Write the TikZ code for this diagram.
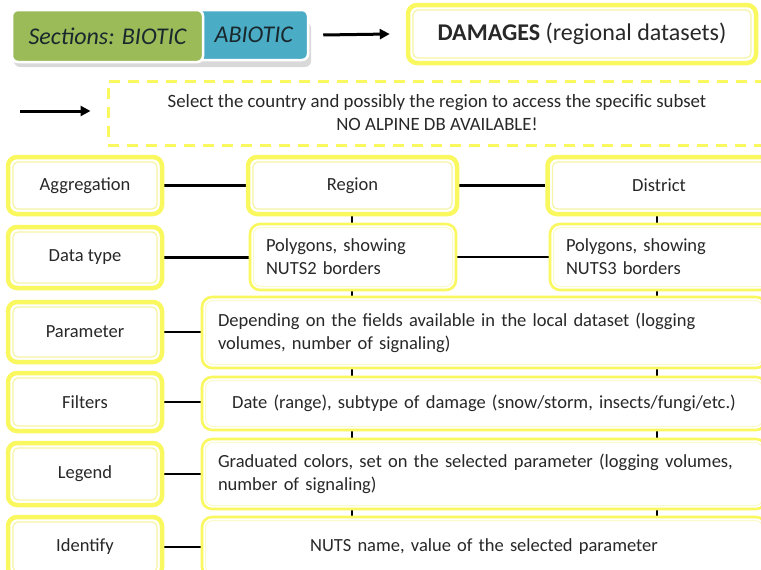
\documentclass[tikz,border=0pt]{standalone}
\usepackage{fontspec}
\setmainfont{Carlito}
\usetikzlibrary{arrows.meta,backgrounds}
\definecolor{ylw}{RGB}{250,248,95}
\definecolor{ylwpale}{RGB}{246,244,165}
\definecolor{ylwfaint}{RGB}{250,250,205}
\definecolor{gtab}{RGB}{155,187,89}
\definecolor{btab}{RGB}{75,172,198}
\definecolor{txt}{RGB}{40,40,40}
\definecolor{tabtxt}{RGB}{25,40,45}
\tikzset{
  fs/.style={font=\fontsize{18.5}{23}\selectfont},
  thickbox/.style={draw=ylw, line width=4.5pt, rounded corners=9pt, fill=white,
    text=txt, fs, align=center, inner sep=0pt,
    path picture={\draw[ylwpale, line width=1.2pt, rounded corners=5pt]
      ([shift={(5pt,-5pt)}]path picture bounding box.north west) rectangle
      ([shift={(-5pt,5pt)}]path picture bounding box.south east);}},
  thinbox/.style={draw=ylw, line width=2.6pt, rounded corners=10pt, fill=white,
    text=txt, fs, inner sep=0pt,
    path picture={\draw[ylwfaint, line width=1pt, rounded corners=7pt]
      ([shift={(3.5pt,-3.5pt)}]path picture bounding box.north west) rectangle
      ([shift={(-3.5pt,3.5pt)}]path picture bounding box.south east);}},
  dashbox/.style={draw=ylw, line width=3pt, dash pattern=on 11pt off 8pt, fill=white,
    text=txt, font=\fontsize{18.8}{23}\selectfont, align=center, inner sep=0pt},
  tabbox/.style={draw=white, line width=2.5pt, rounded corners=6pt, text=tabtxt,
    font=\fontsize{24}{28}\selectfont\itshape, inner sep=0pt},
  conn/.style={line width=2.6pt, black},
  arr/.style={line width=3pt, black, -{Triangle[length=10pt,width=10pt]}},
}
\begin{document}
\begin{tikzpicture}[x=1pt,y=-1pt]
\path[use as bounding box] (0,0) rectangle (761,570);
\clip (0,0) rectangle (761,570);

% tabs
\fill[gray!30, rounded corners=6pt] (14,22) rectangle (311,67);
\node[tabbox, fill=btab, minimum width=190pt, minimum height=50pt,
      text width=160pt, align=right] (abiotic) at (213,35) {ABIOTIC};
\node[tabbox, fill=gtab, minimum width=191pt, minimum height=52pt,
      align=center] (biotic) at (107.5,36) {Sections: BIOTIC};

% header
\node[thickbox, minimum width=348pt, minimum height=58pt,
      font=\fontsize{24}{28}\selectfont] (damages) at (582,34)
      {\textbf{DAMAGES} (regional datasets)};
\draw[arr] ([xshift=14pt]abiotic.east) -- ([xshift=-16pt]damages.west);

% select box
\node[dashbox, minimum width=658pt, minimum height=64pt] (select) at (437,113)
  {Select the country and possibly the region to access the specific subset\\NO ALPINE DB AVAILABLE!};
\coordinate (la) at (20,111);
\draw[arr] (la) -- ([xshift=-16pt]select.west |- la);

% left column
\node[thickbox, minimum width=154pt, minimum height=57pt] (agg) at (85,185.5) {Aggregation};
\node[thickbox, minimum width=154pt, minimum height=61pt] (dtype) at (85,257.5) {Data type};
\node[thickbox, minimum width=154pt, minimum height=60pt] (param) at (85,332) {Parameter};
\node[thickbox, minimum width=154pt, minimum height=58pt] (filt) at (85,402) {Filters};
\node[thickbox, minimum width=154pt, minimum height=62pt] (leg) at (85,474) {Legend};
\node[thickbox, minimum width=154pt, minimum height=60pt] (ident) at (85,547) {Identify};

% aggregation levels
\node[thickbox, minimum width=209pt, minimum height=57pt] (region) at (352.5,185.5) {Region};
\node[thickbox, minimum width=223pt, minimum height=57pt] (district) at (659,185.5) {District};

% data type
\node[thinbox, minimum width=206pt, minimum height=66pt, text width=174pt, align=left]
  (nuts2) at (353,257) {Polygons, showing\\NUTS2 borders};
\node[thinbox, minimum width=222pt, minimum height=66pt, text width=190pt, align=left]
  (nuts3) at (661,257) {Polygons, showing\\NUTS3 borders};

% wide boxes
\node[thinbox, minimum width=564pt, minimum height=71pt, text width=532pt, align=left]
  (wparam) at (484,332.5)
  {\makebox[470pt][s]{Depending on the fields available in the local dataset (logging}\\volumes, number of signaling)};
\node[thinbox, minimum width=564pt, minimum height=53pt, text width=532pt, align=center]
  (wfilt) at (484,403.5)
  {Date (range), subtype of damage (snow/storm, insects/fungi/etc.)};
\node[thinbox, minimum width=564pt, minimum height=70pt, text width=532pt, align=left]
  (wleg) at (484,474)
  {\makebox[532pt][s]{Graduated colors, set on the selected parameter (logging volumes,}\\number of signaling)};
\node[thinbox, minimum width=564pt, minimum height=60pt, text width=532pt, align=center]
  (wident) at (484,547)
  {NUTS name, value of the selected parameter};

\coordinate (c1) at (352,0);
\coordinate (c2) at (657,0);

\begin{pgfonlayer}{background}
\fill[white] (0,0) rectangle (761,570);
\draw[conn] (agg.east) -- (region.west);
\draw[conn] (region.east) -- (district.west);
\draw[conn] (dtype.east) -- (dtype.east -| nuts2.west);
\draw[conn] (nuts2.east) -- (nuts2.east -| nuts3.west);
\draw[conn] (param.east) -- (param.east -| wparam.west);
\draw[conn] (filt.east) -- (filt.east -| wfilt.west);
\draw[conn] (leg.east) -- (leg.east -| wleg.west);
\draw[conn] (ident.east) -- (ident.east -| wident.west);
\foreach \c in {c1,c2}{
  \draw[conn] (\c |- region.south) -- (\c |- nuts2.north);
  \draw[conn] (\c |- nuts2.south) -- (\c |- wparam.north);
  \draw[conn] (\c |- wparam.south) -- (\c |- wfilt.north);
  \draw[conn] (\c |- wfilt.south) -- (\c |- wleg.north);
  \draw[conn] (\c |- wleg.south) -- (\c |- wident.north);
}
\end{pgfonlayer}
\end{tikzpicture}
\end{document}
